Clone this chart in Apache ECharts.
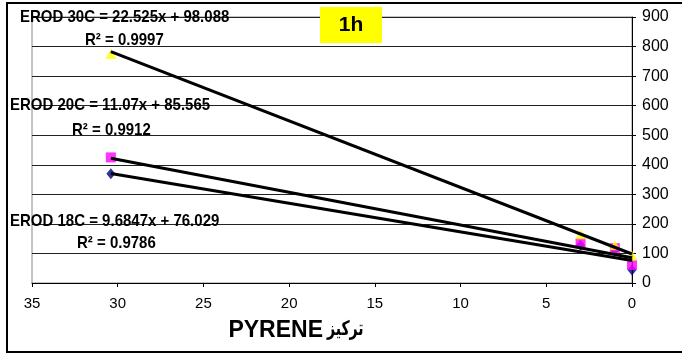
<!DOCTYPE html>
<html>
<head>
<meta charset="utf-8">
<script src="https://cdn.jsdelivr.net/npm/echarts@6/dist/echarts.min.js"></script>
<style>
  html, body { margin: 0; padding: 0; background: #fff; }
  #chart { width: 682px; height: 356px; }
</style>
</head>
<body>
<div id="chart"></div>
<script>
// Pyrene concentration (x) and EROD activity per temperature
const concentrations = [30.4, 3, 1, 0];
const erod18 = [370, 128, 112, 44];
const erod20 = [425, 135, 118, 61];
const erod30 = [775, 165, 128, 92];

// Linear trendline fits (slope, intercept, R²)
const seriesNames = ['EROD 18C', 'EROD 20C', 'EROD 30C'];
const slopes = [9.6847, 11.07, 22.525];
const intercepts = [76.029, 85.565, 98.088];
const rSquared = [0.9786, 0.9912, 0.9997];

const FONT = '"Liberation Sans", Arial, "DejaVu Sans", sans-serif';

const chart = echarts.init(document.getElementById('chart'), null, { renderer: 'canvas' });

const pairs = (ys) => concentrations.map((x, i) => [x, ys[i]]);
const xMax = Math.max(...concentrations);
const xMin = Math.min(...concentrations);
const trend = (k) => [
  [xMax, slopes[k] * xMax + intercepts[k]],
  [xMin, slopes[k] * xMin + intercepts[k]]
];

const eqText = (k) => `${seriesNames[k]} = ${slopes[k]}x + ${intercepts[k]}`;
const r2Text = (k) => `R² = ${rSquared[k]}`;

const labelStyle = { fontFamily: FONT, fontSize: 15, fontWeight: 'bold', fill: '#000', verticalAlign: 'middle' };
const label = (x, y, text) => ({
  type: 'text', x: x, y: y, scaleY: 1.1, z: 10,
  style: Object.assign({ text: text }, labelStyle)
});

const option = {
  animation: false,
  backgroundColor: '#fff',
  grid: {
    left: 32, right: 50, top: 17, bottom: 73,
    show: true, borderColor: '#888', borderWidth: 1, backgroundColor: 'transparent'
  },
  xAxis: {
    type: 'value', inverse: true, min: 0, max: 35, interval: 5,
    axisLine: { show: true, lineStyle: { color: '#000', width: 1 } },
    axisTick: { show: true, inside: false, length: 4, lineStyle: { color: '#000' } },
    axisLabel: { color: '#000', fontFamily: FONT, fontSize: 15, margin: 13 },
    splitLine: { show: false }
  },
  yAxis: {
    type: 'value', position: 'right', min: 0, max: 900, interval: 100,
    axisLine: { show: true, lineStyle: { color: '#000', width: 1 } },
    axisTick: { show: true, inside: false, length: 4, lineStyle: { color: '#000' } },
    axisLabel: { color: '#000', fontFamily: FONT, fontSize: 16, margin: 10 },
    splitLine: { show: true, lineStyle: { color: '#222', width: 1 } }
  },
  series: [
    {
      name: seriesNames[0], type: 'scatter', data: pairs(erod18), z: 2,
      symbol: 'diamond', symbolSize: [9, 11], itemStyle: { color: '#000080' }
    },
    {
      name: seriesNames[1], type: 'scatter', data: pairs(erod20), z: 3,
      symbol: 'rect', symbolSize: 10, itemStyle: { color: '#ff00ff' }
    },
    {
      name: seriesNames[2], type: 'scatter', data: pairs(erod30), z: 4,
      symbol: 'triangle', symbolSize: [11, 10], itemStyle: { color: '#ffff00' }
    },
    ...[0, 1, 2].map(k => ({
      name: seriesNames[k] + ' trend', type: 'line', data: trend(k), z: 5,
      symbol: 'none', lineStyle: { color: '#000', width: 3 }
    }))
  ],
  graphic: [
    // chart frame
    { type: 'rect', shape: { x: 7, y: 3, width: 700, height: 349 },
      style: { fill: 'none', stroke: '#000', lineWidth: 2 }, z: 10 },
    // trendline equations
    label(20, 17, eqText(2)),
    label(85, 40, r2Text(2)),
    label(10, 105, eqText(1)),
    label(72, 130, r2Text(1)),
    label(10, 221, eqText(0)),
    label(77, 243, r2Text(0)),
    // time tag
    { type: 'rect', shape: { x: 320, y: 7, width: 62, height: 36 }, style: { fill: '#ffff00' }, z: 10 },
    { type: 'text', x: 351, y: 25, style: { text: '1h', fontFamily: FONT, fontSize: 21, fontWeight: 'bold',
      fill: '#000', align: 'center', verticalAlign: 'middle' }, z: 11 },
    // axis title
    { type: 'text', x: 323, y: 331, style: { text: 'PYRENE', fontFamily: FONT, fontSize: 23, fontWeight: 'bold',
      fill: '#000', align: 'right', verticalAlign: 'middle' }, z: 10 },
    { type: 'text', x: 327, y: 329, scaleX: 0.7, style: { text: 'تركيز', fontFamily: FONT, fontSize: 20, fontWeight: 'bold',
      fill: '#000', align: 'left', verticalAlign: 'middle' }, z: 10 }
  ]
};

chart.setOption(option);
</script>
</body>
</html>
